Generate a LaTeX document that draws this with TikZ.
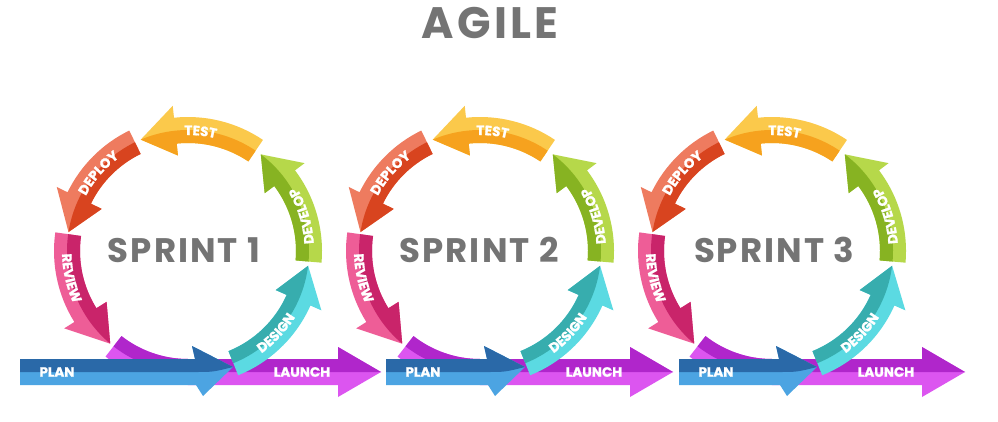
\documentclass[tikz,border=0pt]{standalone}
\usepackage{fontspec}
\setmainfont{Poppins}
\usetikzlibrary{calc,decorations.text}

\definecolor{testL}{HTML}{FBC94B}
\definecolor{testD}{HTML}{F6A21E}
\definecolor{deployL}{HTML}{EE7B5F}
\definecolor{deployD}{HTML}{D8441F}
\definecolor{reviewL}{HTML}{EE5D97}
\definecolor{reviewD}{HTML}{C9246A}
\definecolor{launchL}{HTML}{DC55F0}
\definecolor{launchD}{HTML}{B026CB}
\definecolor{planL}{HTML}{4CA4E2}
\definecolor{planD}{HTML}{2A69A8}
\definecolor{designL}{HTML}{5BDAE2}
\definecolor{designD}{HTML}{37ADAE}
\definecolor{developL}{HTML}{B6D84A}
\definecolor{developD}{HTML}{87B322}
\definecolor{titlegray}{HTML}{747474}

% ring radii: middle line, band edges, arrow-head barbs
\def\Rm{121}
\def\Ro{134}
\def\Ri{108}
\def\Rho{146}
\def\Rhi{96}
\newcommand\lblfont{\fontsize{13.5}{14}\selectfont\bfseries\addfontfeature{FakeBold=1.2}}

% curved two-tone arrow on the ring: center, tail angle, head-base angle, tip angle, light, dark
\newcommand\ringarrow[6]{%
  \fill[#5] ($(#1)+(#2:\Ri)$) -- ($(#1)+(#2:\Ro)$)
    arc[start angle=#2, end angle=#3, radius=\Ro]
    -- ($(#1)+(#3:\Rho)$) -- ($(#1)+(#4:\Rm)$) -- ($(#1)+(#3:\Rhi)$) -- ($(#1)+(#3:\Ri)$)
    arc[start angle=#3, end angle=#2, radius=\Ri] -- cycle;
  \fill[#6] ($(#1)+(#2:\Rm)$) -- ($(#1)+(#2:\Ri)$)
    arc[start angle=#2, end angle=#3, radius=\Ri]
    -- ($(#1)+(#3:\Rhi)$) -- ($(#1)+(#4:\Rm)$)
    arc[start angle=#4, end angle=#2, radius=\Rm] -- cycle;
}
% label read clockwise, letters standing outward
\newcommand\outlabel[4]{%
  \path[decorate, decoration={text along path, text align=center,
      text={|\lblfont\color{white}|#4}}]
    ($(#1)+(#2:116)$) arc[start angle=#2, end angle=#3, radius=116];
}
% label read anticlockwise, letters standing inward
\newcommand\inlabel[4]{%
  \path[decorate, decoration={text along path, text align=center,
      text={|\lblfont\color{white}|#4}}]
    ($(#1)+(#2:126)$) arc[start angle=#2, end angle=#3, radius=126];
}

% one sprint: ring center x, plan start x, number, title x
\newcommand\sprint[4]{%
  \coordinate (c#3) at (#1,170);
  % launch: from the ring bottom out to the right
  \fill[launchL] ($(c#3)+(232:\Ri)$) -- ($(c#3)+(232:\Ro)$)
    arc[start angle=232, end angle=270, radius=\Ro]
    -- (#1+150,36) -- (#1+150,24) -- (#1+193,49) -- (#1+150,74) -- (#1+150,62)
    -- ($(c#3)+(270:\Ri)$) arc[start angle=270, end angle=232, radius=\Ri] -- cycle;
  \fill[launchD] ($(c#3)+(232:\Rm)$) -- ($(c#3)+(232:\Ri)$)
    arc[start angle=232, end angle=270, radius=\Ri]
    -- (#1+150,62) -- (#1+150,74) -- (#1+193,49) -- (#1,49)
    arc[start angle=270, end angle=232, radius=\Rm] -- cycle;
  % plan: straight arrow along the bottom
  \fill[planL] (#2,36) -- (#1+8,36) -- (#1+15,25) -- (#1+45,54) -- (#1+4,75) -- (#1+7,62) -- (#2,62) -- cycle;
  \fill[planD] (#2,49) -- (#1+7,49) .. controls (#1+25,49) .. (#1+45,54) -- (#1+4,75) -- (#1+7,62) -- (#2,62) -- cycle;
  % the ring
  \ringarrow{c#3}{172}{212}{230}{reviewL}{reviewD}
  \ringarrow{c#3}{116}{154}{171}{deployL}{deployD}
  \ringarrow{c#3}{56}{96}{113}{testL}{testD}
  \ringarrow{c#3}{-5}{37}{53}{developL}{developD}
  \ringarrow{c#3}{-68}{-24}{-7}{designL}{designD}
  \outlabel{c#3}{109}{59}{TEST}
  \outlabel{c#3}{164}{114}{DEPLOY}
  \inlabel{c#3}{166}{220}{REVIEW}
  \inlabel{c#3}{-12}{46}{DEVELOP}
  \inlabel{c#3}{-72}{-14}{DESIGN}
  \node[lbltext] (plan#3) at (#2+37,49) {PLAN};
  \node[lbltext] (launch#3) at (#1+114,49) {LAUNCH};
  \node[sprinttext] (sprint#3) at (#4,171) {SPRINT #3};
}

\begin{document}
\begin{tikzpicture}[x=1pt, y=1pt,
  lbltext/.style={font=\lblfont, text=white, inner sep=0pt},
  sprinttext/.style={font=\fontsize{34}{34}\selectfont\bfseries\addfontfeature{LetterSpace=6}, text=titlegray, inner sep=0pt},
  titletext/.style={font=\fontsize{44}{44}\selectfont\bfseries\addfontfeature{LetterSpace=7}, text=titlegray, inner sep=0pt}]
  \useasboundingbox (0,0) rectangle (998,421);
  \fill[white] (0,0) rectangle (998,421);
  \node[titletext] (title) at (490,398) {AGILE};
  \sprint{188}{20}{1}{184}
  \sprint{480}{386}{2}{479}
  \sprint{772}{679}{3}{774}
\end{tikzpicture}
\end{document}
